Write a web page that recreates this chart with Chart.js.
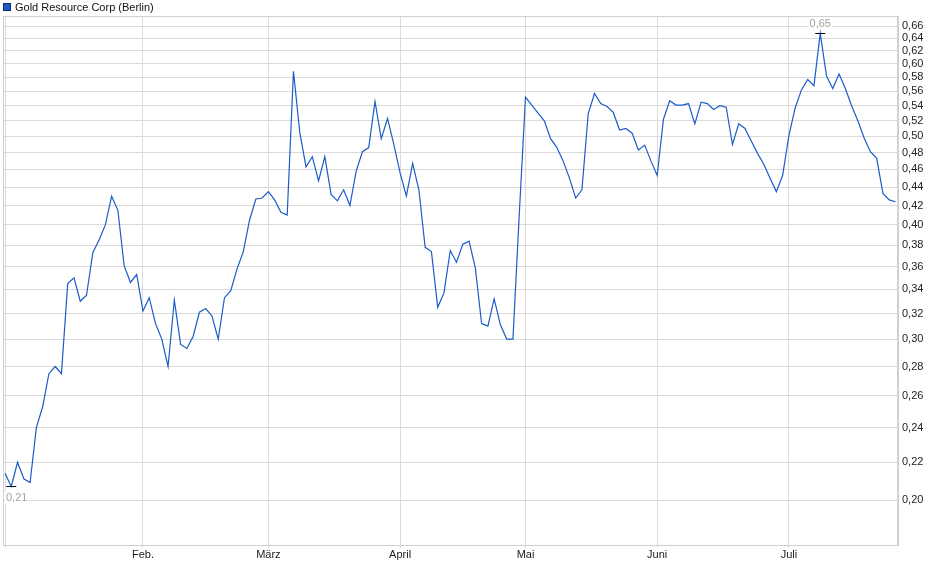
<!DOCTYPE html>
<html>
<head>
<meta charset="utf-8">
<script src="https://cdn.jsdelivr.net/npm/chart.js@4.4.1/dist/chart.umd.min.js"></script>
<style>
html, body { margin: 0; padding: 0; background: #fff; }
#wrap { width: 940px; height: 579px; position: relative; }
</style>
</head>
<body>
<div id="wrap"><canvas id="chart"></canvas></div>
<script>
const seriesName = 'Gold Resource Corp (Berlin)';

// months on the x axis and how many trading days each one has
const monthLabels = ['', 'Feb.', 'März', 'April', 'Mai', 'Juni', 'Juli'];
const monthDays = [22, 20, 21, 20, 21, 21, 18];

// closing prices, one per trading day
const prices = [
    0.214, 0.207, 0.220, 0.211, 0.209, 0.240, 0.253, 0.275, 0.280, 0.275,
    0.345, 0.350, 0.330, 0.335, 0.373, 0.385, 0.400, 0.430, 0.415, 0.361,
    0.346, 0.353, 0.322, 0.333, 0.312, 0.300, 0.280, 0.331, 0.296, 0.293,
    0.302, 0.321, 0.324, 0.318, 0.300, 0.333, 0.339, 0.358, 0.374, 0.405,
    0.427, 0.428, 0.435, 0.426, 0.413, 0.410, 0.589, 0.505, 0.463, 0.475,
    0.447, 0.475, 0.432, 0.425, 0.437, 0.420, 0.458, 0.481, 0.486, 0.546,
    0.497, 0.523, 0.490, 0.456, 0.430, 0.467, 0.437, 0.378, 0.374, 0.325,
    0.337, 0.375, 0.364, 0.381, 0.384, 0.359, 0.312, 0.310, 0.332, 0.311,
    0.300, 0.300, 0.410, 0.552, 0.541, 0.530, 0.520, 0.497, 0.486, 0.470,
    0.450, 0.428, 0.437, 0.529, 0.557, 0.543, 0.539, 0.531, 0.508, 0.510,
    0.504, 0.483, 0.489, 0.470, 0.453, 0.522, 0.547, 0.541, 0.541, 0.543,
    0.516, 0.545, 0.543, 0.535, 0.540, 0.538, 0.490, 0.516, 0.510, 0.494,
    0.479, 0.466, 0.450, 0.435, 0.453, 0.501, 0.537, 0.562, 0.577, 0.568,
    0.648, 0.582, 0.564, 0.585, 0.564, 0.540, 0.520, 0.498, 0.481, 0.473,
    0.433, 0.426, 0.424
];

const yTicks = [0.20, 0.22, 0.24, 0.26, 0.28, 0.30, 0.32, 0.34, 0.36, 0.38, 0.40, 0.42,
    0.44, 0.46, 0.48, 0.50, 0.52, 0.54, 0.56, 0.58, 0.60, 0.62, 0.64, 0.66];

const FONT = '"Liberation Sans", Arial, sans-serif';
const GRID = '#dadada';

// index of the first trading day of each month
const monthStarts = [];
monthDays.reduce((acc, n) => { monthStarts.push(acc); return acc + n; }, 0);

const fmt = v => v.toFixed(2).replace('.', ',');

// frame, legend and the high/low markers
const decorations = {
    id: 'decorations',
    afterDraw(chart) {
        const ctx = chart.ctx;
        const a = chart.chartArea;
        const xs = chart.scales.x, ys = chart.scales.y;
        ctx.save();

        ctx.strokeStyle = '#d0d0d0';
        ctx.lineWidth = 1;
        ctx.strokeRect(Math.round(a.left) + 0.5, Math.round(a.top) + 0.5,
            Math.round(a.right - a.left) - 1, Math.round(a.bottom - a.top));

        // legend
        ctx.fillStyle = '#1f5bc6';
        ctx.fillRect(3, 3, 8, 8);
        ctx.strokeStyle = '#0d2c6b';
        ctx.strokeRect(3.5, 3.5, 7, 7);
        ctx.fillStyle = '#111';
        ctx.font = '11px ' + FONT;
        ctx.textBaseline = 'middle';
        ctx.textAlign = 'left';
        ctx.fillText(seriesName, 15, 7.5);

        const hi = prices.indexOf(Math.max(...prices));
        const lo = prices.indexOf(Math.min(...prices));
        const mark = (i, dy) => {
            const px = xs.getPixelForValue(i);
            const py = Math.round(ys.getPixelForValue(prices[i])) + 0.5;
            ctx.strokeStyle = '#000';
            ctx.beginPath();
            ctx.moveTo(px - 5, py);
            ctx.lineTo(px + 5, py);
            ctx.stroke();
            const txt = fmt(prices[i]);
            const w = ctx.measureText(txt).width;
            let lx = px - w / 2;
            if (lx < a.left + 3) lx = a.left + 3;
            ctx.fillStyle = '#fff';
            ctx.fillRect(lx - 1, py + dy - 6, w + 2, 12);
            ctx.fillStyle = '#a6a199';
            ctx.fillText(txt, lx, py + dy);
        };
        mark(hi, -10);
        mark(lo, 11);
        ctx.restore();
    }
};

new Chart(document.getElementById('chart'), {
    type: 'line',
    data: {
        datasets: [{
            label: seriesName,
            data: prices.map((v, i) => ({ x: i, y: v })),
            borderColor: '#1b5cc9',
            backgroundColor: '#1b5cc9',
            borderWidth: 1.2,
            pointRadius: 0,
            tension: 0,
            fill: false,
        }],
    },
    options: {
        responsive: true,
        maintainAspectRatio: false,
        animation: false,
        layout: { padding: { top: 16, left: 3, right: 0, bottom: 0 } },
        plugins: { legend: { display: false }, tooltip: { enabled: false } },
        scales: {
            x: {
                type: 'linear',
                bounds: 'data',
                min: -0.32,
                max: prices.length - 1 + 0.4,
                afterBuildTicks: s => { s.ticks = monthStarts.map(v => ({ value: v })); },
                afterFit: s => { s.height = 34; },
                ticks: {
                    autoSkip: false,
                    maxRotation: 0,
                    padding: 0,
                    color: '#222',
                    font: { family: FONT, size: 11 },
                    callback: v => monthLabels[monthStarts.indexOf(v)] ?? '',
                },
                grid: { color: GRID, tickLength: 3, drawTicks: true },
                border: { color: '#d0d0d0' },
            },
            y: {
                type: 'logarithmic',
                position: 'right',
                bounds: 'data',
                min: 0.1786,
                max: 0.677,
                afterBuildTicks: s => { s.ticks = yTicks.map(v => ({ value: v })); },
                afterFit: s => { s.width = 42; },
                ticks: {
                    padding: 4,
                    color: '#222',
                    font: { family: FONT, size: 11 },
                    callback: v => fmt(v),
                },
                grid: { color: GRID, drawTicks: false },
                border: { color: '#d0d0d0' },
            },
        },
    },
    plugins: [decorations],
});
</script>
</body>
</html>
